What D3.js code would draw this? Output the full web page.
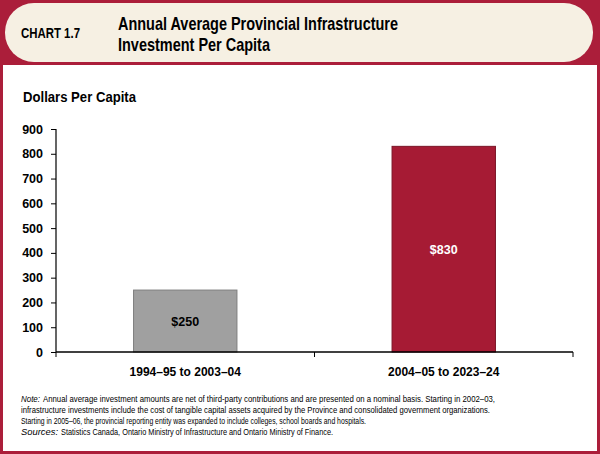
<!DOCTYPE html>
<html><head><meta charset="utf-8">
<script src="https://cdn.jsdelivr.net/npm/d3@7"></script>
<style>body{margin:0;background:#fff}svg{display:block}</style>
</head><body>
<svg id="c" width="600" height="454"></svg>
<script>
const categories = ["1994–95 to 2003–04", "2004–05 to 2023–24"];
const values = [250, 830];
const valueLabels = ["$250", "$830"];
const yTicks = [0, 100, 200, 300, 400, 500, 600, 700, 800, 900];
const barColors = ["#a0a0a0", "#a61b34"];
const barStrokes = ["#7f7f7f", "#7a1426"];
const labelColors = ["#000000", "#ffffff"];
const titleLines = ["Annual Average Provincial Infrastructure", "Investment Per Capita"];
const noteLines = [
  ["Note:", "Annual average investment amounts are net of third-party contributions and are presented on a nominal basis. Starting in 2002–03,"],
  ["", "infrastructure investments include the cost of tangible capital assets acquired by the Province and consolidated government organizations."],
  ["", "Starting in 2005–06, the provincial reporting entity was expanded to include colleges, school boards and hospitals."],
  ["Sources:", "Statistics Canada, Ontario Ministry of Infrastructure and Ontario Ministry of Finance."]
];

const svg = d3.select("#c");
const F = "'Liberation Sans', Arial, sans-serif";

function fit(sel, w) {
  sel.attr("textLength", w).attr("lengthAdjust", "spacingAndGlyphs");
  return sel;
}

// frame
svg.append("rect").attr("x",0).attr("y",0).attr("width",600).attr("height",454).attr("fill","#ab1e3a");
svg.append("rect").attr("x",5).attr("y",3).attr("width",588).attr("height",59).attr("rx",29).attr("fill","#f6f0e3");
svg.append("rect").attr("x",3).attr("y",65).attr("width",594).attr("height",386).attr("fill","#ffffff");

fit(svg.append("text").attr("x",21).attr("y",37.5).attr("font-family",F).attr("font-weight","bold")
  .attr("font-size",14).attr("fill","#000").text("CHART 1.7"), 59);
const titleW = [280, 152];
titleLines.forEach((t,i)=>{
  fit(svg.append("text").attr("x",118).attr("y",29.5+i*21).attr("font-family",F).attr("font-weight","bold")
    .attr("font-size",18.5).attr("fill","#000").text(t), titleW[i]);
});

fit(svg.append("text").attr("x",23).attr("y",101.5).attr("font-family",F).attr("font-weight","bold")
  .attr("font-size",14).attr("fill","#000").text("Dollars Per Capita"), 113);

const x = d3.scaleBand().domain(categories).range([56, 573]).paddingInner(0.6).paddingOuter(0.3);
const y = d3.scaleLinear().domain([0, 900]).range([352, 129]);

const g = svg.append("g");
g.selectAll("rect.bar").data(values).join("rect").attr("class","bar")
  .attr("x",(d,i)=>x(categories[i])).attr("width",x.bandwidth())
  .attr("y",d=>y(d)).attr("height",d=>y(0)-y(d))
  .attr("fill",(d,i)=>barColors[i]).attr("stroke",(d,i)=>barStrokes[i]).attr("stroke-width",1);

g.selectAll("text.vl").data(values).join("text").attr("class","vl")
  .attr("x",(d,i)=>x(categories[i])+x.bandwidth()/2).attr("y",d=>(y(d)+y(0))/2+5)
  .attr("text-anchor","middle").attr("font-family",F).attr("font-weight","bold").attr("font-size",12.5)
  .attr("fill",(d,i)=>labelColors[i]).text((d,i)=>valueLabels[i]);

// y axis
const ya = svg.append("g").attr("transform","translate(56,0)")
  .call(d3.axisLeft(y).tickValues(yTicks).tickSize(5).tickPadding(8).tickFormat(d3.format("d")));
ya.select(".domain").attr("stroke","#000").attr("stroke-width",1.2).attr("d","M-5,129.5H0V352");
ya.selectAll("text").attr("font-family",F).attr("font-weight","bold").attr("font-size",12.5).attr("fill","#000");
ya.selectAll("line").attr("stroke","#000");

// x axis
const xa = svg.append("g").attr("transform","translate(0,352)")
  .call(d3.axisBottom(x).tickSize(0).tickPadding(15));
xa.select(".domain").attr("stroke","#000").attr("stroke-width",1.5).attr("d","M56,0H573");
xa.selectAll("text").attr("font-family",F).attr("font-weight","bold").attr("font-size",12).attr("fill","#000");
const sep = [x.range()[0], (x(categories[0])+x.bandwidth()+x(categories[1]))/2, x.range()[1]];
xa.selectAll("line.sep").data(sep).join("line").attr("class","sep")
  .attr("x1",d=>d).attr("x2",d=>d).attr("y1",0).attr("y2",5).attr("stroke","#000");

// notes
const labelW = {"Note:": 19, "Sources:": 37};
const noteEnd = [495, 490, 366, 333];
const nt = svg.append("g");
noteLines.forEach((ln,i)=>{
  const yy = 402+i*11;
  let x0 = 21;
  if (ln[0]) {
    fit(nt.append("text").attr("x",21).attr("y",yy).attr("font-family",F).attr("font-style","italic")
      .attr("font-size",9.5).attr("fill","#000").text(ln[0]), labelW[ln[0]]);
    x0 = 21 + labelW[ln[0]] + 3;
  }
  fit(nt.append("text").attr("x",x0).attr("y",yy).attr("font-family",F)
    .attr("font-size",9.5).attr("fill","#000").text(ln[1]), noteEnd[i]-x0);
});
</script>
</body></html>
